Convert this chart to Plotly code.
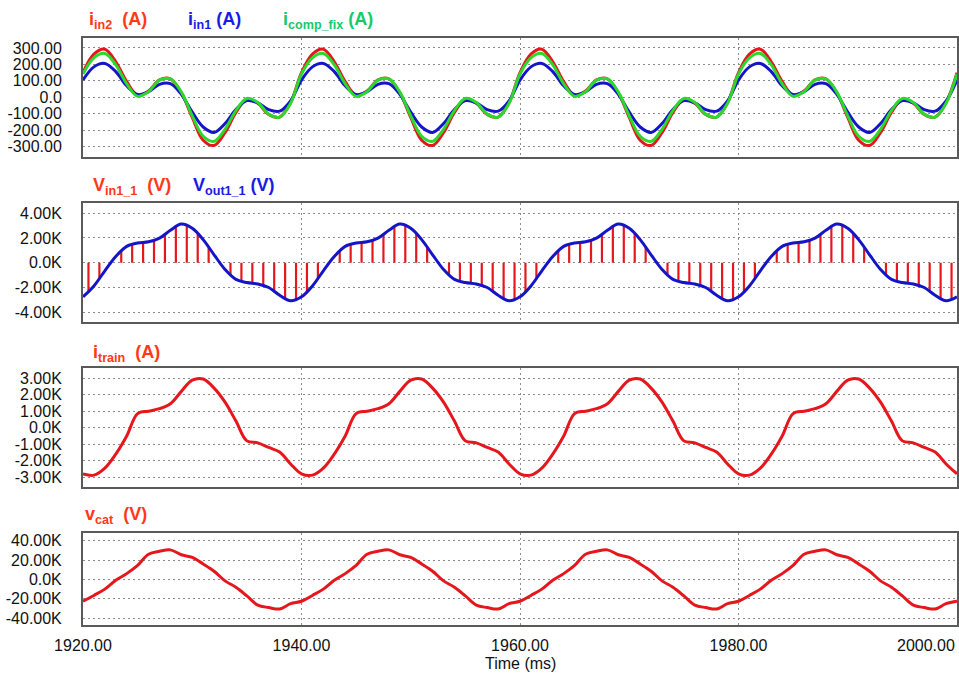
import plotly.graph_objects as go

# ---------------- data ----------------
time_ms = list(range(1920, 2001))                 # 1 ms samples
stem_time_ms = [1920.5 + k for k in range(80)]    # Vin1_1 pulses

i_in2 = [150, 262, 292, 216, 95, 12, 38, 106, 112, 28, -122, -260, -292, -214, -92, -12, -36, -104, -120, -32,
         150, 262, 292, 216, 95, 12, 38, 106, 112, 28, -122, -260, -292, -214, -92, -12, -36, -104, -120, -32,
         150, 262, 292, 216, 95, 12, 38, 106, 112, 28, -122, -260, -292, -214, -92, -12, -36, -104, -120, -32,
         150, 262, 292, 216, 95, 12, 38, 106, 112, 28, -122, -260, -292, -214, -92, -12, -36, -104, -120, -32,
         150]
i_in1 = [105, 185, 206, 156, 70, 17, 34, 79, 83, 18, -90, -180, -213, -159, -74, -20, -33, -75, -84, -22,
         105, 185, 206, 156, 70, 17, 34, 79, 83, 18, -90, -180, -213, -159, -74, -20, -33, -75, -84, -22,
         105, 185, 206, 156, 70, 17, 34, 79, 83, 18, -90, -180, -213, -159, -74, -20, -33, -75, -84, -22,
         105, 185, 206, 156, 70, 17, 34, 79, 83, 18, -90, -180, -213, -159, -74, -20, -33, -75, -84, -22,
         105]
i_comp_fix = [142, 240, 266, 197, 82, 6, 34, 104, 112, 32, -112, -236, -267, -194, -80, -7, -31, -102, -120, -36,
              142, 240, 266, 197, 82, 6, 34, 104, 112, 32, -112, -236, -267, -194, -80, -7, -31, -102, -120, -36,
              142, 240, 266, 197, 82, 6, 34, 104, 112, 32, -112, -236, -267, -194, -80, -7, -31, -102, -120, -36,
              142, 240, 266, 197, 82, 6, 34, 104, 112, 32, -112, -236, -267, -194, -80, -7, -31, -102, -120, -36,
              142]

v_out1_1 = [-2750, -1870, -650, 500, 1320, 1590, 1690, 1990, 2620, 3120, 2780, 1870, 640, -540, -1340, -1600, -1720, -2000, -2620, -3070,
            -2750, -1870, -650, 500, 1320, 1590, 1690, 1990, 2620, 3120, 2780, 1870, 640, -540, -1340, -1600, -1720, -2000, -2620, -3070,
            -2750, -1870, -650, 500, 1320, 1590, 1690, 1990, 2620, 3120, 2780, 1870, 640, -540, -1340, -1600, -1720, -2000, -2620, -3070,
            -2750, -1870, -650, 500, 1320, 1590, 1690, 1990, 2620, 3120, 2780, 1870, 640, -540, -1340, -1600, -1720, -2000, -2620, -3070,
            -2750]
v_in1_1 = [-2400, -1330, -60, 1000, 1480, 1650, 1770, 2280, 2900, 3100, 2400, 1300, 60, -1000, -1500, -1660, -1800, -2250, -2880, -3000,
           -2400, -1330, -60, 1000, 1480, 1650, 1770, 2280, 2900, 3100, 2400, 1300, 60, -1000, -1500, -1660, -1800, -2250, -2880, -3000,
           -2400, -1330, -60, 1000, 1480, 1650, 1770, 2280, 2900, 3100, 2400, 1300, 60, -1000, -1500, -1660, -1800, -2250, -2880, -3000,
           -2400, -1330, -60, 1000, 1480, 1650, 1770, 2280, 2900, 3100, 2400, 1300, 60, -1000, -1500, -1660, -1800, -2250, -2880, -3000]

i_train = [-2800, -2880, -2450, -1600, -500, 850, 1000, 1150, 1450, 2200, 2880, 2950, 2400, 1550, 400, -800, -920, -1200, -1480, -2200,
           -2800, -2880, -2450, -1600, -500, 850, 1000, 1150, 1450, 2200, 2880, 2950, 2400, 1550, 400, -800, -920, -1200, -1480, -2200,
           -2800, -2880, -2450, -1600, -500, 850, 1000, 1150, 1450, 2200, 2880, 2950, 2400, 1550, 400, -800, -920, -1200, -1480, -2200,
           -2800, -2880, -2450, -1600, -500, 850, 1000, 1150, 1450, 2200, 2880, 2950, 2400, 1550, 400, -800, -920, -1200, -1480, -2200,
           -2800]

v_cat = [-22500, -16500, -10000, -800, 6000, 14500, 26000, 29000, 30500, 25500, 22700, 16000, 8500, -1500, -8000, -17000, -26500, -29000, -30500, -25000,
         -22500, -16500, -10000, -800, 6000, 14500, 26000, 29000, 30500, 25500, 22700, 16000, 8500, -1500, -8000, -17000, -26500, -29000, -30500, -25000,
         -22500, -16500, -10000, -800, 6000, 14500, 26000, 29000, 30500, 25500, 22700, 16000, 8500, -1500, -8000, -17000, -26500, -29000, -30500, -25000,
         -22500, -16500, -10000, -800, 6000, 14500, 26000, 29000, 30500, 25500, 22700, 16000, 8500, -1500, -8000, -17000, -26500, -29000, -30500, -25000,
         -22500]

x_ticks = [1920, 1940, 1960, 1980, 2000]
x_tick_labels = ["1920.00", "1940.00", "1960.00", "1980.00", "2000.00"]

y1_ticks = [300, 200, 100, 0, -100, -200, -300]
y1_labels = ["300.00", "200.00", "100.00", "0.0", "-100.00", "-200.00", "-300.00"]
y2_ticks = [4000, 2000, 0, -2000, -4000]
y2_labels = ["4.00K", "2.00K", "0.0K", "-2.00K", "-4.00K"]
y3_ticks = [3000, 2000, 1000, 0, -1000, -2000, -3000]
y3_labels = ["3.00K", "2.00K", "1.00K", "0.0K", "-1.00K", "-2.00K", "-3.00K"]
y4_ticks = [40000, 20000, 0, -20000, -40000]
y4_labels = ["40.00K", "20.00K", "0.0K", "-20.00K", "-40.00K"]

# ---------------- styling ----------------
W, H = 959, 675
FONT = "Liberation Sans, Arial, sans-serif"
RED = "#E5171C"
BLUE = "#1515C8"
GREEN = "#2CD82C"
T_RED = "#FF3A14"
T_BLUE = "#1A1AE6"
T_GREEN = "#16C96A"

def ydom(top_px, bot_px):
    return [1 - bot_px / H, 1 - top_px / H]

XDOM = [83 / W, 957 / W]

fig = go.Figure()
fig.add_trace(go.Scatter(x=time_ms, y=i_in2, mode="lines", line=dict(color=RED, width=3, shape="spline"),
                         xaxis="x", yaxis="y"))
fig.add_trace(go.Scatter(x=time_ms, y=i_in1, mode="lines", line=dict(color=BLUE, width=3, shape="spline"),
                         xaxis="x", yaxis="y"))
fig.add_trace(go.Scatter(x=time_ms, y=i_comp_fix, mode="lines", line=dict(color=GREEN, width=3, shape="spline"),
                         xaxis="x", yaxis="y"))
fig.add_trace(go.Bar(x=stem_time_ms, y=v_in1_1, width=0.2, marker=dict(color=RED, line=dict(width=0)),
                     xaxis="x2", yaxis="y2"))
fig.add_trace(go.Scatter(x=time_ms, y=v_out1_1, mode="lines", line=dict(color=BLUE, width=3, shape="spline"),
                         xaxis="x2", yaxis="y2"))
fig.add_trace(go.Scatter(x=time_ms, y=i_train, mode="lines", line=dict(color=RED, width=3, shape="spline"),
                         xaxis="x3", yaxis="y3"))
fig.add_trace(go.Scatter(x=time_ms, y=v_cat, mode="lines", line=dict(color=RED, width=3, shape="spline"),
                         xaxis="x4", yaxis="y4"))

grid = dict(showgrid=True, gridcolor="#8c8c8c", gridwidth=1, griddash="2px,3px", automargin=False,
            showline=True, linecolor="#5a5a5a", linewidth=2, mirror=True, zeroline=False, ticks="")

def xaxis(anchor, labels):
    d = dict(grid, domain=XDOM, range=[x_ticks[0], x_ticks[-1]], anchor=anchor,
             tickvals=x_ticks[:-1], ticktext=x_tick_labels[:-1], showticklabels=labels,
             tickfont=dict(family=FONT, size=16, color="#111"), ticklabelstandoff=4)
    return d

def yaxis(dom, rng, tv, tt, anchor):
    return dict(grid, domain=dom, range=rng, tickvals=tv, ticktext=tt, anchor=anchor,
                tickfont=dict(family=FONT, size=16, color="#111"), ticklabelstandoff=16)

fig.update_layout(
    template="none",
    width=W, height=H, margin=dict(l=0, r=0, t=0, b=0, autoexpand=False),
    paper_bgcolor="white", plot_bgcolor="white", showlegend=False,
    xaxis=xaxis("y", False), xaxis2=xaxis("y2", False), xaxis3=xaxis("y3", False), xaxis4=xaxis("y4", True),
    yaxis=yaxis(ydom(37.7, 157), [-362, 362], y1_ticks, y1_labels, "x"),
    yaxis2=yaxis(ydom(203.3, 321.7), [-4760, 4800], y2_ticks, y2_labels, "x2"),
    yaxis3=yaxis(ydom(368.3, 486.7), [-3580, 3600], y3_ticks, y3_labels, "x3"),
    yaxis4=yaxis(ydom(533.3, 625.3), [-47300, 47600], y4_ticks, y4_labels, "x4"),
)

def title(x_px, y_px, text, color):
    fig.add_annotation(x=x_px / W, y=1 - y_px / H, xref="paper", yref="paper", xanchor="left",
                       yanchor="bottom", showarrow=False, text="<b>" + text + "</b>",
                       font=dict(family=FONT, size=18, color=color))

NB = "\u00a0"
title(87, 34, "i<sub>in2</sub>" + NB * 2 + "(A)", T_RED)
title(186, 34, "i<sub>in1</sub>" + NB + "(A)", T_BLUE)
title(281, 34, "i<sub>comp_fix</sub>" + NB + "(A)", T_GREEN)
title(91, 200, "V<sub>in1_1</sub>" + NB * 2 + "(V)", T_RED)
title(191, 200, "V<sub>out1_1</sub>" + NB + "(V)", T_BLUE)
title(91, 367, "i<sub>train</sub>" + NB * 2 + "(A)", T_RED)
title(83, 529, "v<sub>cat</sub>" + NB * 2 + "(V)", T_RED)

# last x tick label, kept inside the page like the reference
fig.add_annotation(x=x_ticks[-1], y=1 - 645 / H, xref="x4", yref="paper", xanchor="right", yanchor="middle",
                   showarrow=False, text=x_tick_labels[-1], font=dict(family=FONT, size=16, color="#111"))
# x-axis title
fig.add_annotation(x=(XDOM[0] + XDOM[1]) / 2, y=1 - 663 / H, xref="paper", yref="paper", xanchor="center",
                   yanchor="middle", showarrow=False, text="Time (ms)", font=dict(family=FONT, size=16, color="#111"))

fig.write_html("out.html", config={"displayModeBar": False},
               post_script="document.body.style.margin='0px';")
